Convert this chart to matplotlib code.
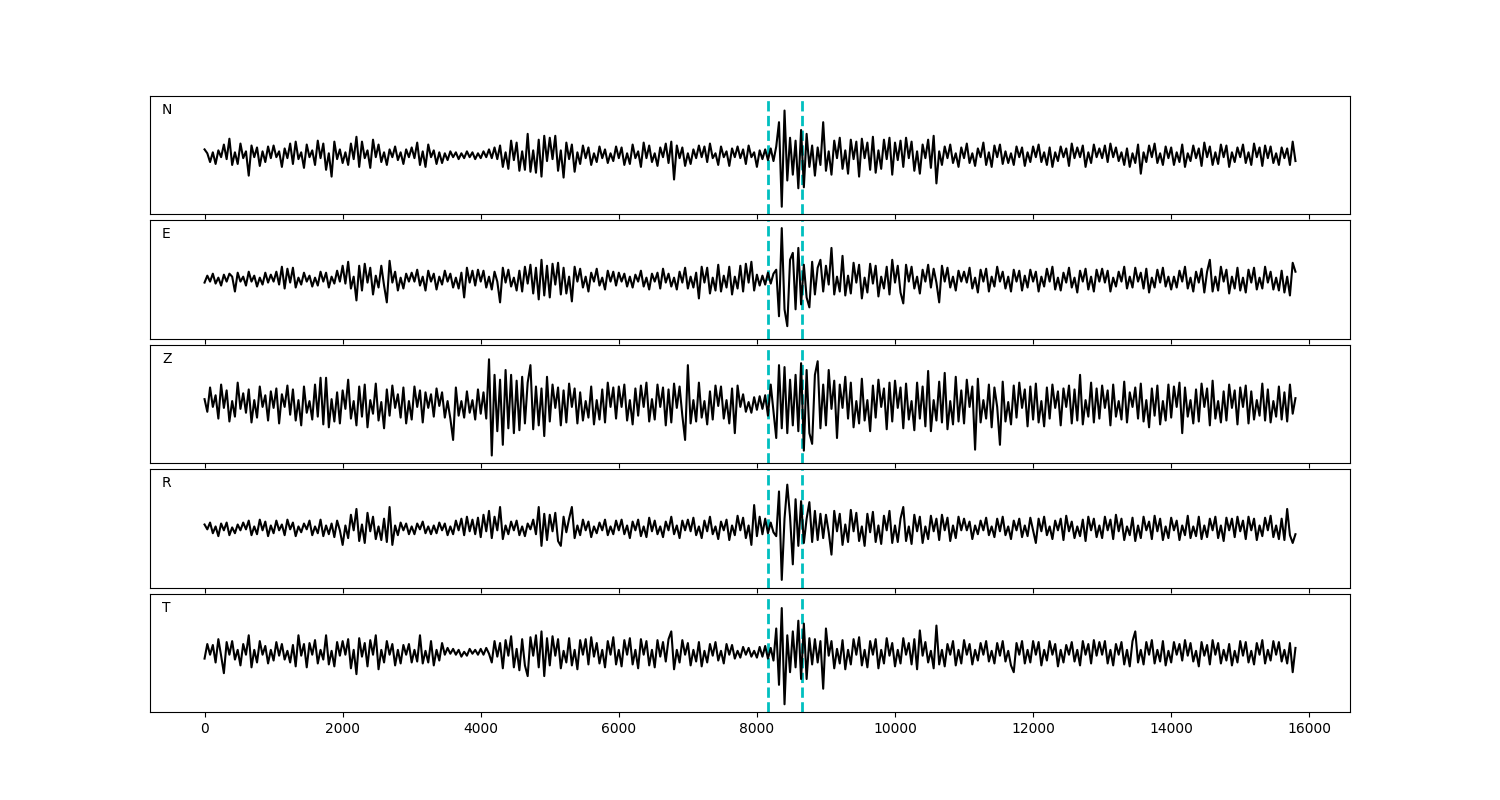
import numpy as np
import matplotlib
matplotlib.use('Agg')
import matplotlib.pyplot as plt

# one value every 40 samples, 0 .. 15800 (amplitude in screen-like units)
dt = 40
components = ['N', 'E', 'Z', 'R', 'T']
picks = [8155, 8650]

n_vals = [
	6, 2, -7, 3, -9, 5, -2, 11, -4, 17, -10, 3, -9, 12, -3, 4, -21, 10, -2, 8, -11, 4, -7, 9, -3,
	10, -2, 4, -12, 7, -3, 12, -9, 14, -4, 3, -13, 11, -2, 5, -10, 15, -3, 12, -15, 2, -22, 14, -4, 6,
	-8, 3, -10, 12, -4, 19, -12, 14, -3, 5, -13, 16, -2, 11, -7, 3, -10, 6, -2, 9, -5, 3, -9, 6, -2,
	8, -3, 13, -10, 4, -12, 11, -2, 5, -9, 3, -8, 2, -5, 4, -2, 3, -4, 2, -3, 4, -2, 3, -4, 2,
	-3, 4, -2, 6, -3, 8, -4, 10, -12, 3, -14, 15, -5, 13, -16, 4, -15, 22, -17, 5, -18, 16, -22, 20, -6,
	18, -4, 20, -16, 5, -23, 13, -4, 11, -17, 3, -9, 10, -3, 8, -10, 2, -7, 9, -3, 6, -8, 2, -6, 9,
	-3, 8, -10, 2, -9, 11, -3, 4, -12, 13, -3, 10, -7, 2, -11, 8, -2, 12, -8, 14, -25, 10, -3, 8, -11,
	2, -9, 6, -3, 10, -2, 9, -7, 12, -3, 2, -10, 9, -2, 4, -11, 7, -2, 9, -3, 6, -9, 10, -2, 3,
	-12, 5, -4, 6, -5, 7, -6, 9, 34, -53, 46, -26, 18, -20, 15, -34, 26, -33, 22, -12, 10, -21, 8, -10, 34,
	-16, 4, -20, 15, -3, 18, -14, 5, -19, 16, -4, 14, -22, 17, -3, 13, -15, 19, -18, 5, -14, 16, -4, 18, -20,
	13, -5, 15, -12, 18, -3, 14, -16, 4, -19, 11, -3, 16, -13, 20, -29, 4, -10, 9, -3, 11, -8, 2, -12, 8,
	-3, 12, -8, 2, -11, 7, -2, 13, -10, 3, -12, 10, -2, 11, -9, 4, -8, 2, -10, 9, -2, 8, -11, 3, -7,
	9, -2, 11, -7, 3, -10, 8, -12, 3, -6, 9, -2, 7, -11, 12, -3, 8, -2, 10, -12, 3, -8, 11, -2, 7,
	-3, 10, -7, 12, -2, 8, -6, 3, -10, 7, -12, 2, -8, 11, -19, 3, -7, 10, -2, 12, -8, 2, -10, 9, -3,
	8, -10, 3, -7, 11, -12, 2, -6, 10, -3, 7, -11, 13, -2, 9, -10, 3, -9, 11, -2, 10, -12, 3, -7, 8,
	-2, 11, -8, 3, -10, 12, -2, 8, -11, 10, -3, 9, -8, 2, -10, 8, -3, 7, -10, 14, -6,
]

e_vals = [
	-3, 4, -2, 6, -4, 2, -6, 5, -2, 6, 3, -12, 7, -2, 3, -6, 8, -2, 4, -7, 2, -5, 7, -3, 5,
	-2, 8, -5, 13, -9, 11, -3, 12, -8, 2, -5, 7, -2, 4, -7, 2, -6, 8, -2, 7, -8, 3, -4, 9, -2,
	14, -4, 18, -9, 3, -21, 14, -11, 16, -3, 12, -15, 4, -8, 14, -6, -23, 19, -3, 8, -11, 2, -9, 6, -2,
	7, -2, 10, -6, 3, -11, 9, -2, 6, -10, 3, -5, 9, -2, 6, -8, 2, -9, 7, -18, 12, -3, 9, -6, 10,
	-2, 9, -8, 3, -10, 8, -2, -23, 12, -3, 10, -7, 2, -11, 9, -12, 13, -4, 15, -14, 12, -20, 20, -16, 14,
	-18, 16, -5, 17, -15, 12, -14, 3, -22, 13, -2, 11, -8, 3, -12, 7, -2, 11, -6, 2, -10, 9, -2, 8, -6,
	7, -2, 6, -7, 3, -8, 5, -2, 9, -7, 2, -10, 6, -2, 7, -9, 11, -3, 6, -7, 2, -10, 8, -3, 12,
	-9, 3, -8, 7, -19, 13, -3, 12, -14, 2, -11, 15, -12, 4, -8, 13, -15, 3, -9, 14, -12, 16, -3, 18, -11,
	5, -6, 4, -5, 7, -4, 6, 10, -37, 52, -30, -47, 20, 27, -30, 32, -25, 15, -18, -28, 18, -15, 12, 20, -12,
	14, -5, 32, -15, 3, -12, 24, -16, 4, -14, 17, -3, 15, -19, 2, -13, 16, -4, 14, -17, 3, -9, 13, -15, 20,
	-3, 14, -13, -24, 15, -2, 13, -9, 3, -14, 10, -2, 15, -8, 11, -3, -23, 14, -2, 12, -8, 3, -11, 9, -2,
	8, -3, 12, -9, 2, -13, 10, -2, 11, -12, 3, -7, 13, -2, 8, -9, 3, -12, 10, -2, 9, -11, 4, -8, 10,
	-2, 8, -12, 3, -7, 11, -2, 13, -10, 2, -11, 7, -3, 12, -8, 2, -13, 9, -2, 11, -10, 3, -12, 10, -2,
	11, -3, 9, -12, 2, -7, 8, -2, 13, -9, 3, -8, 12, -2, 7, -9, 11, -13, 2, -8, 10, -3, 12, -7, 3,
	-10, 3, -8, 9, -2, 13, -9, 2, -12, 8, -3, 11, -13, 8, 20, -12, 3, -11, 13, -2, 10, -14, 3, -9, 12,
	-11, 2, -13, 10, -3, 12, -10, 2, -9, 13, -3, 8, -10, 2, -11, 9, -13, 3, -16, 17, 8,
]

z_vals = [
	5, -8, 17, -3, 9, -15, 20, -4, 14, -18, 3, -13, 22, -5, 11, -9, 15, -19, 4, -14, 18, -3, 9, -17, 13,
	-4, 16, -20, 10, -3, 19, -11, 15, -17, 4, -22, 18, -9, 3, -16, 20, -13, 27, -21, 27, -24, 5, -18, 12, -20,
	14, -5, 25, -15, 3, -22, 18, -13, 20, -24, 4, -10, 21, -17, 2, -25, 15, -12, 19, -4, 10, -14, 17, -20, 3,
	-16, 18, -3, 14, -19, 12, -4, 10, -13, 16, -2, 12, -14, 3, -15, -37, 17, -12, 3, -14, 13, -9, 4, -16, 15,
	-10, 12, -15, 46, -53, 30, -28, 25, -42, 35, -25, 30, -30, 24, -27, 28, -20, 22, 40, -26, 18, -22, 16, -33, 28,
	-18, 20, -4, 17, -22, 14, -19, 21, -3, 16, -20, 12, -17, 3, -14, 18, -21, 4, -16, 15, -19, 22, -3, 17, -15,
	18, -3, 20, -17, 4, -21, 16, -12, 19, -3, 22, -18, 5, -16, 20, -3, 17, -22, 15, -19, 21, -4, 18, -12, -37,
	40, -20, 4, -18, 22, -14, 3, -21, 13, -16, 19, -2, 18, -15, 4, -20, 16, -30, 19, -3, 10, -8, 2, -9, 7,
	-6, 8, -5, 9, -12, 20, -8, -35, 40, -25, 38, -30, 25, -22, 30, -28, 42, -48, 35, -30, -41, 30, 44, -25, 20,
	-22, 35, -5, 24, -35, 20, -4, 28, -15, 22, -24, 3, -20, 26, -17, 4, -28, 19, -14, 25, -3, 16, -26, 22, -18,
	24, -4, 17, -25, 21, -16, 3, -27, 22, -15, 18, -23, 34, -28, 4, -17, 23, -19, 32, -26, 3, -21, 28, -18, 14,
	-20, 25, -3, 18, -47, 26, -19, 4, -15, 20, -24, 17, -3, -42, 23, -18, 2, -21, 19, -14, 22, -4, 15, -23, 18,
	-16, 21, -19, 3, -23, 17, -15, 20, -4, 13, -22, 16, -3, 19, -20, 15, -17, 30, -21, 4, -13, 22, -19, 16, -15,
	19, -4, 14, -22, 20, -13, 3, -16, 23, -19, 12, -3, 17, -15, 21, -18, 4, -24, 16, -12, 19, -21, 3, -17, 20,
	-14, 18, -3, 22, -30, 17, -13, 4, -20, 15, -18, 21, -3, 16, -22, 24, -15, 3, -19, 13, -17, 20, -4, 14, -21,
	17, -3, 19, -20, 13, -16, 4, -12, 21, -17, 15, -19, 3, -13, 18, -16, 12, -18, 20, -10, 6,
]

r_vals = [
	4, -1, 6, -5, 2, -8, 5, -2, 6, -7, 1, -5, 4, -2, 6, -1, 8, -7, 2, -6, 9, -2, 7, -8, 3,
	-5, 8, -2, 4, -7, 9, -1, 6, -8, 2, -4, 5, -1, 8, -7, 2, -5, 9, -8, 3, -6, 5, -9, 8, -2,
	-17, 3, -10, 14, -2, 20, -13, 4, -15, 16, -3, 12, -11, 2, -12, 10, -14, 22, -17, 3, -7, 6, -2, 5, -6,
	2, -6, 5, -1, 7, -5, 2, -6, 3, -5, 6, -2, 5, -7, 2, -6, 8, -2, 10, -7, 12, -3, 9, -6, 11,
	-9, 14, -3, 18, -10, 12, -2, 22, -11, 3, -6, 7, -2, 8, -7, 2, -8, 5, -1, 9, -6, 22, -18, 15, -12,
	14, -3, 16, -13, -18, 12, -4, 10, 22, -10, 3, -7, 9, -2, 7, -9, 2, -5, 6, -2, 9, -7, 2, -6, 8,
	-2, 9, -6, 3, -10, 7, -2, 9, -8, 2, -9, 11, -3, 8, -6, 2, -9, 7, -2, 12, -6, 3, -10, 8, -2,
	9, -3, 11, -7, 2, -10, 8, -3, 12, -6, 2, -11, 7, -2, 9, -12, 3, -7, 13, -2, 11, -10, 3, -17, 24,
	-8, 12, -6, 10, -5, 6, -4, -8, 38, -53, 10, 45, 12, -37, 30, -18, 28, -15, 10, 27, -14, 18, -12, 15, -10,
	14, -4, -27, 18, -3, 15, -17, 4, -14, 19, -3, 16, -13, 2, -18, 15, -4, 17, -14, 3, -16, 13, -2, 18, -15,
	3, -14, 10, 22, -13, 2, -16, 14, -3, 12, -15, 2, -11, 13, -3, 10, -12, 14, -2, 11, -13, 3, -10, 12, -2,
	10, -2, 7, -11, 3, -6, 8, -2, 11, -7, 2, -9, 10, -3, 12, -7, 2, -11, 8, -2, 10, -9, 3, -8, 11,
	-2, -15, 10, -3, 12, -7, 2, -11, 8, -2, 10, -12, 13, -3, 7, -10, 2, -8, 9, -13, 12, -2, 10, -9, 3,
	-10, 12, -2, 9, -11, 14, -3, 10, -12, 2, -7, 11, -13, 3, -10, 12, -2, 7, -11, 13, -3, 10, -12, 2, -10,
	11, -2, 8, -12, 3, -7, 13, -10, 2, -8, 12, -11, 3, -9, 10, -2, 12, -10, 3, -13, 11, -2, 10, -9, 12,
	-3, 8, -11, 12, -2, 10, -12, 3, -8, 11, -2, 13, -9, 3, -11, 10, -12, 20, -7, -15, -6,
]

t_vals = [
	-6, 9, -2, 8, -10, 14, -3, -21, 11, -2, 12, -7, 3, -13, 9, -2, 18, -15, 3, -10, 12, -2, 7, -11, 3,
	-8, 11, -3, 9, -7, 2, -10, 8, -14, 18, -3, 9, -15, 10, -2, 13, -11, 3, -7, 18, -12, 2, -14, 11, -3,
	12, -2, 14, -16, 3, -22, 15, -4, 10, -14, 13, -2, 18, -17, 3, -10, 12, -2, 9, -13, 3, -11, 8, -2, 9,
	-10, 3, -9, 18, -11, 2, -10, 12, -13, 3, -8, 10, -2, 5, -1, 4, -2, 3, -4, 1, -3, 4, -1, 3, -2,
	4, -2, 5, -1, -10, 12, -4, 10, -16, 13, -3, 17, -15, 4, -18, 14, -13, -24, 16, -3, 18, -15, 22, -24, 15,
	-13, 17, -3, 14, -16, 2, -10, 15, -13, 3, -17, 13, -2, 14, -12, 16, -4, 10, -11, 3, -15, 12, -2, 16, -12,
	3, -14, 13, -2, 15, -12, 3, -16, 14, -2, 12, -13, 3, -15, 13, -4, 11, -9, 14, 22, -17, 3, -10, 13, -2,
	10, -13, 3, -9, 11, -14, 2, -10, 9, -3, 11, -8, 2, -11, 9, -2, 8, -6, 2, -5, 6, -2, 5, -4, 2,
	-5, 6, -4, 7, -6, 5, -8, 25, -33, 46, -53, 18, -20, 22, -15, 33, -27, 30, -27, 15, -12, 14, -10, 12, -37,
	25, -3, 12, -16, 4, -11, 13, -17, 3, -12, 14, -2, 16, -13, 3, -15, 12, -2, 14, -16, 3, -11, 15, -3, 10,
	-14, 3, -11, 15, -2, 10, -12, 14, -17, 23, -3, 11, -10, 2, -16, 28, -12, 3, -14, 9, -2, 12, -13, 3, -11,
	13, -2, 9, -12, 3, -8, 10, -2, 12, -9, 2, -11, 10, -3, 12, -9, 2, -13, -20, 10, -2, 12, -11, 3, -10,
	12, -2, 11, -13, 3, -8, 12, -2, 9, -14, 3, -10, 8, -2, 11, -9, 3, -13, 12, -2, 9, -11, 13, -3, 11,
	-2, 12, -11, 3, -13, 9, -2, 11, -12, 3, -14, 12, 22, -10, 3, -12, 11, -2, 13, -11, 3, -9, 12, -13, 2,
	-10, 11, -2, 9, -8, 13, -3, 10, -9, 2, -14, 11, -3, 8, -12, 13, -2, 10, -11, 3, -8, 9, -13, 2, -10,
	12, -3, 11, -10, 2, -12, 10, -2, 13, -11, 3, -8, 12, -2, 11, -9, 3, -11, 10, -20, 5,
]


def main():
	traces = [n_vals, e_vals, z_vals, r_vals, t_vals]

	fig, axes = plt.subplots(nrows=5, sharex=True, figsize=(15, 8))
	fig.subplots_adjust(left=0.1, right=0.9, top=0.88, bottom=0.11, hspace=0.05)

	for ax, name, vals in zip(axes, components, traces):
		y = np.array(vals, dtype=float)
		t = np.arange(len(y)) * dt
		for p in picks:
			ax.axvline(p, color='c', linestyle='--', linewidth=2)
		ax.plot(t, y, color='k', linewidth=1.5)
		amax = np.abs(y).max()
		ax.set_ylim(-1.15 * amax, 1.15 * amax)
		ax.set_yticks([])
		ax.text(0.01, 0.94, name, transform=ax.transAxes, va='top', ha='left')

	plt.savefig('out.png', dpi=100)


if __name__ == '__main__':
	main()
